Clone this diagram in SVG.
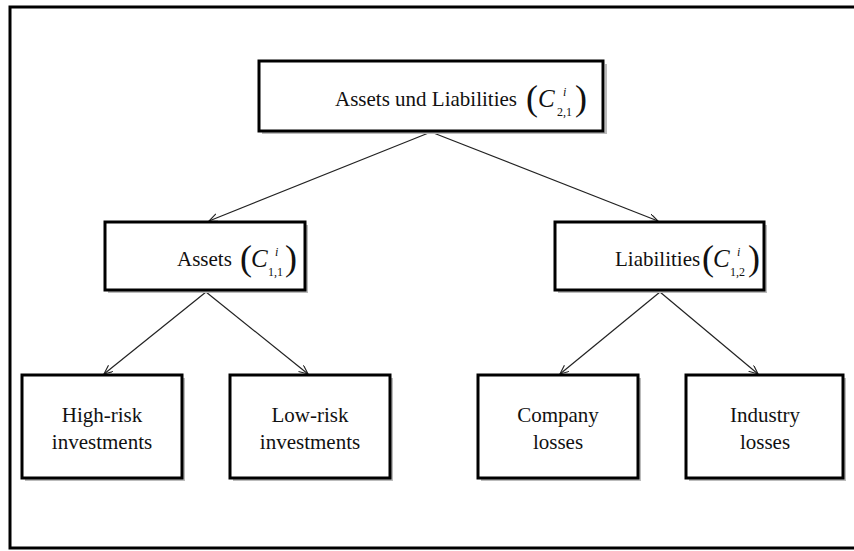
<svg xmlns="http://www.w3.org/2000/svg" width="854" height="551" viewBox="0 0 854 551">
<defs>
<marker id="arr" markerWidth="10" markerHeight="10" refX="9" refY="4" orient="auto" markerUnits="userSpaceOnUse">
<path d="M0,0 L9,4 L0,8" fill="none" stroke="#222" stroke-width="1.1"/>
</marker>
</defs>
<style>
.box{fill:#fff;stroke:#000;stroke-width:3}
.sh{fill:none;stroke:#bbb;stroke-width:2}
text{font-family:'Liberation Serif','DejaVu Serif','Times New Roman',serif;fill:#111}
.t{font-size:21px}
.p{font-size:36px}
.C{font-size:25px;font-style:italic}
.i{font-size:12px;font-style:italic}
.s{font-size:12px}
.c{stroke:#222;stroke-width:1.2;fill:none}
</style>
<rect x="0" y="0" width="854" height="551" fill="#fff"/>
<rect x="10" y="7" width="870" height="541" fill="none" stroke="#000" stroke-width="3"/>

<g id="connectors">
<line class="c" x1="431" y1="132" x2="209" y2="221" marker-end="url(#arr)"/>
<line class="c" x1="431" y1="132" x2="658" y2="221" marker-end="url(#arr)"/>
<line class="c" x1="206" y1="292" x2="104" y2="374" marker-end="url(#arr)"/>
<line class="c" x1="206" y1="292" x2="308" y2="374" marker-end="url(#arr)"/>
<line class="c" x1="660" y1="292" x2="560" y2="374" marker-end="url(#arr)"/>
<line class="c" x1="660" y1="292" x2="758" y2="374" marker-end="url(#arr)"/>
</g>

<g id="root">
<path class="sh" d="M262,133 H606 V64"/>
<rect class="box" x="259" y="61" width="344" height="70"/>
<text class="t" x="335" y="106">Assets und Liabilities</text>
<text class="p" x="526" y="110">(</text>
<text class="C" x="538" y="107">C</text>
<text class="i" x="563" y="96">i</text>
<text class="s" x="557" y="116">2,1</text>
<text class="p" x="575" y="110">)</text>
</g>

<g id="assets">
<path class="sh" d="M108,292 H307 V225"/>
<rect class="box" x="105" y="222" width="200" height="68"/>
<text class="t" x="177" y="266">Assets</text>
<text class="p" x="240" y="270">(</text>
<text class="C" x="251" y="267">C</text>
<text class="i" x="275" y="256">i</text>
<text class="s" x="268" y="276">1,1</text>
<text class="p" x="285" y="270">)</text>
</g>

<g id="liabilities">
<path class="sh" d="M558,292 H766 V225"/>
<rect class="box" x="555" y="222" width="209" height="68"/>
<text class="t" x="615" y="266">Liabilities</text>
<text class="p" x="702" y="270">(</text>
<text class="C" x="713" y="267">C</text>
<text class="i" x="737" y="256">i</text>
<text class="s" x="730" y="276">1,2</text>
<text class="p" x="748" y="270">)</text>
</g>

<g id="highrisk">
<path class="sh" d="M25,480 H184 V378"/>
<rect class="box" x="22" y="375" width="160" height="103"/>
<text class="t" x="102" y="422" text-anchor="middle">High-risk</text>
<text class="t" x="102" y="449" text-anchor="middle">investments</text>
</g>

<g id="lowrisk">
<path class="sh" d="M233,480 H392 V378"/>
<rect class="box" x="230" y="375" width="160" height="103"/>
<text class="t" x="310" y="422" text-anchor="middle">Low-risk</text>
<text class="t" x="310" y="449" text-anchor="middle">investments</text>
</g>

<g id="company">
<path class="sh" d="M481,480 H640 V378"/>
<rect class="box" x="478" y="375" width="160" height="103"/>
<text class="t" x="558" y="422" text-anchor="middle">Company</text>
<text class="t" x="558" y="449" text-anchor="middle">losses</text>
</g>

<g id="industry">
<path class="sh" d="M689,480 H845 V378"/>
<rect class="box" x="686" y="375" width="157" height="103"/>
<text class="t" x="765" y="422" text-anchor="middle">Industry</text>
<text class="t" x="765" y="449" text-anchor="middle">losses</text>
</g>
</svg>
